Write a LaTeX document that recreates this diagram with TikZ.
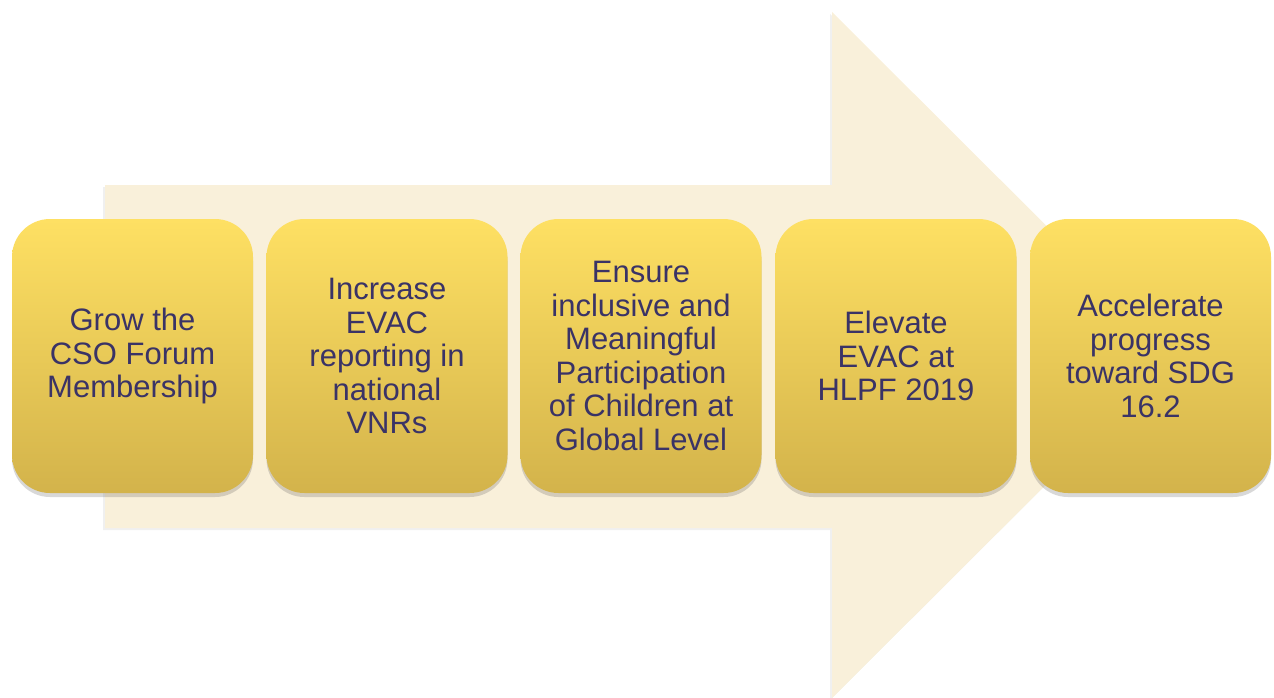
\documentclass[tikz,border=0pt]{standalone}
\usepackage{fontspec}
\setmainfont{Liberation Sans}
\usetikzlibrary{shadows}

\definecolor{arrowcream}{HTML}{F9F0DA}
\definecolor{boxtop}{HTML}{FEE063}
\definecolor{boxbottom}{HTML}{D3B34B}
\definecolor{boxtext}{HTML}{3A3366}

\tikzset{
  goal/.style={rectangle, rounded corners=38pt, minimum width=241pt,
    minimum height=274pt, inner sep=0pt, align=center, text=boxtext,
    top color=boxtop, bottom color=boxbottom,
    font=\fontsize{31}{33.5}\selectfont,
    drop shadow={shadow xshift=0pt, shadow yshift=-4pt, opacity=0.22, fill=black!70}},
}

\begin{document}
\begin{tikzpicture}[x=1pt,y=-1pt]
  \useasboundingbox (0,0) rectangle (1274,698);
  % big arrow behind
  \fill[arrowcream, drop shadow={shadow xshift=-2pt, shadow yshift=-2pt, opacity=0.12}]
    (105,185) -- (832,185) -- (832,12) -- (1176,355) -- (832,698)
    -- (832,528) -- (105,528) -- cycle;
  % goals
  \node[goal] (grow)   at (132.5,356) {Grow the\\CSO Forum\\Membership};
  \node[goal] (vnr)    at (387,356)   {Increase\\EVAC\\reporting in\\national\\VNRs};
  \node[goal] (ensure) at (641,356)   {Ensure\\inclusive and\\Meaningful\\Participation\\of Children at\\Global Level};
  \node[goal] (hlpf)   at (896,356)   {Elevate\\EVAC at\\HLPF 2019};
  \node[goal] (sdg)    at (1150.5,356){Accelerate\\progress\\toward SDG\\16.2};
\end{tikzpicture}
\end{document}
